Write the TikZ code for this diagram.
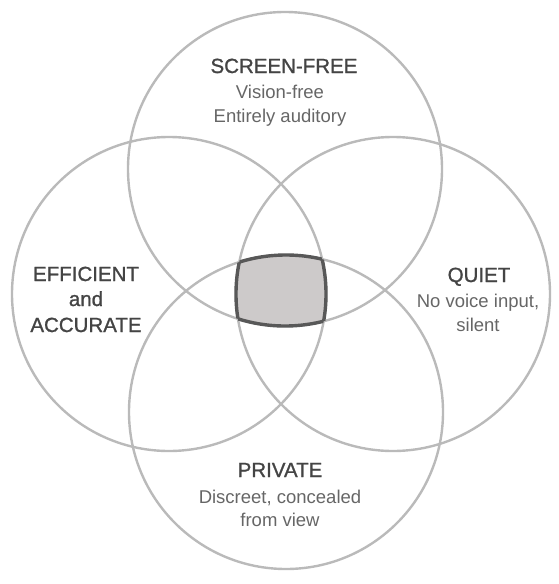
\documentclass[tikz,border=0pt]{standalone}
\usepackage{fontspec}
\setmainfont{Liberation Sans}
\newfontfamily\headfont[FakeBold=1.1]{Liberation Sans}
\begin{document}
\begin{tikzpicture}[x=1pt,y=-1pt,
  ring/.style={draw=ringgray,line width=2.4pt},
  core/.style={draw=coregray,line width=3.4pt},
  head/.style={anchor=base,text=headgray,font=\headfont\fontsize{20.5}{24}\selectfont,inner sep=0pt},
  sub/.style={anchor=base,text=subgray,font=\fontsize{18.5}{22}\selectfont,inner sep=0pt}]
\definecolor{ringgray}{HTML}{BABABA}
\definecolor{coregray}{HTML}{585858}
\definecolor{corefill}{HTML}{CDCACA}
\definecolor{headgray}{HTML}{444444}
\definecolor{subgray}{HTML}{666666}
\useasboundingbox (0,0) rectangle (558,584);

% circle centres
\coordinate (cT) at (285,169);
\coordinate (cB) at (286,412);
\coordinate (cL) at (169,294);
\coordinate (cR) at (393,294);
\def\rr{157pt}

% the four sets
\draw[ring] (cT) circle[radius=\rr];
\draw[ring] (cB) circle[radius=\rr];
\draw[ring] (cL) circle[radius=\rr];
\draw[ring] (cR) circle[radius=\rr];

% common intersection, filled
\begin{scope}
  \clip (cT) circle[radius=\rr];
  \clip (cB) circle[radius=\rr];
  \clip (cL) circle[radius=\rr];
  \fill[corefill] (cR) circle[radius=\rr];
\end{scope}
% its outline: each circle's arc that lies inside the other three
\begin{scope}
  \clip (cB) circle[radius=\rr]; \clip (cL) circle[radius=\rr]; \clip (cR) circle[radius=\rr];
  \draw[core] (cT) circle[radius=\rr];
\end{scope}
\begin{scope}
  \clip (cT) circle[radius=\rr]; \clip (cL) circle[radius=\rr]; \clip (cR) circle[radius=\rr];
  \draw[core] (cB) circle[radius=\rr];
\end{scope}
\begin{scope}
  \clip (cT) circle[radius=\rr]; \clip (cB) circle[radius=\rr]; \clip (cR) circle[radius=\rr];
  \draw[core] (cL) circle[radius=\rr];
\end{scope}
\begin{scope}
  \clip (cT) circle[radius=\rr]; \clip (cB) circle[radius=\rr]; \clip (cL) circle[radius=\rr];
  \draw[core] (cR) circle[radius=\rr];
\end{scope}

% labels
\node[head] (screen) at (284,73) {SCREEN-FREE};
\node[sub]  (vision) at (280,98) {Vision-free};
\node[sub]  (audit)  at (280,122) {Entirely auditory};

\node[head] (effic) at (86,281) {EFFICIENT};
\node[head] (andw)  at (86,306) {and};
\node[head] (accur) at (86,332) {ACCURATE};

\node[head] (quiet)  at (479,282) {QUIET};
\node[sub]  (voice)  at (478,307) {No voice input,};
\node[sub]  (silent) at (478,331) {silent};

\node[head] (priv)    at (280,477) {PRIVATE};
\node[sub]  (discr)   at (280,503) {Discreet, concealed};
\node[sub]  (fromview) at (280,526) {from view};
\end{tikzpicture}
\end{document}
